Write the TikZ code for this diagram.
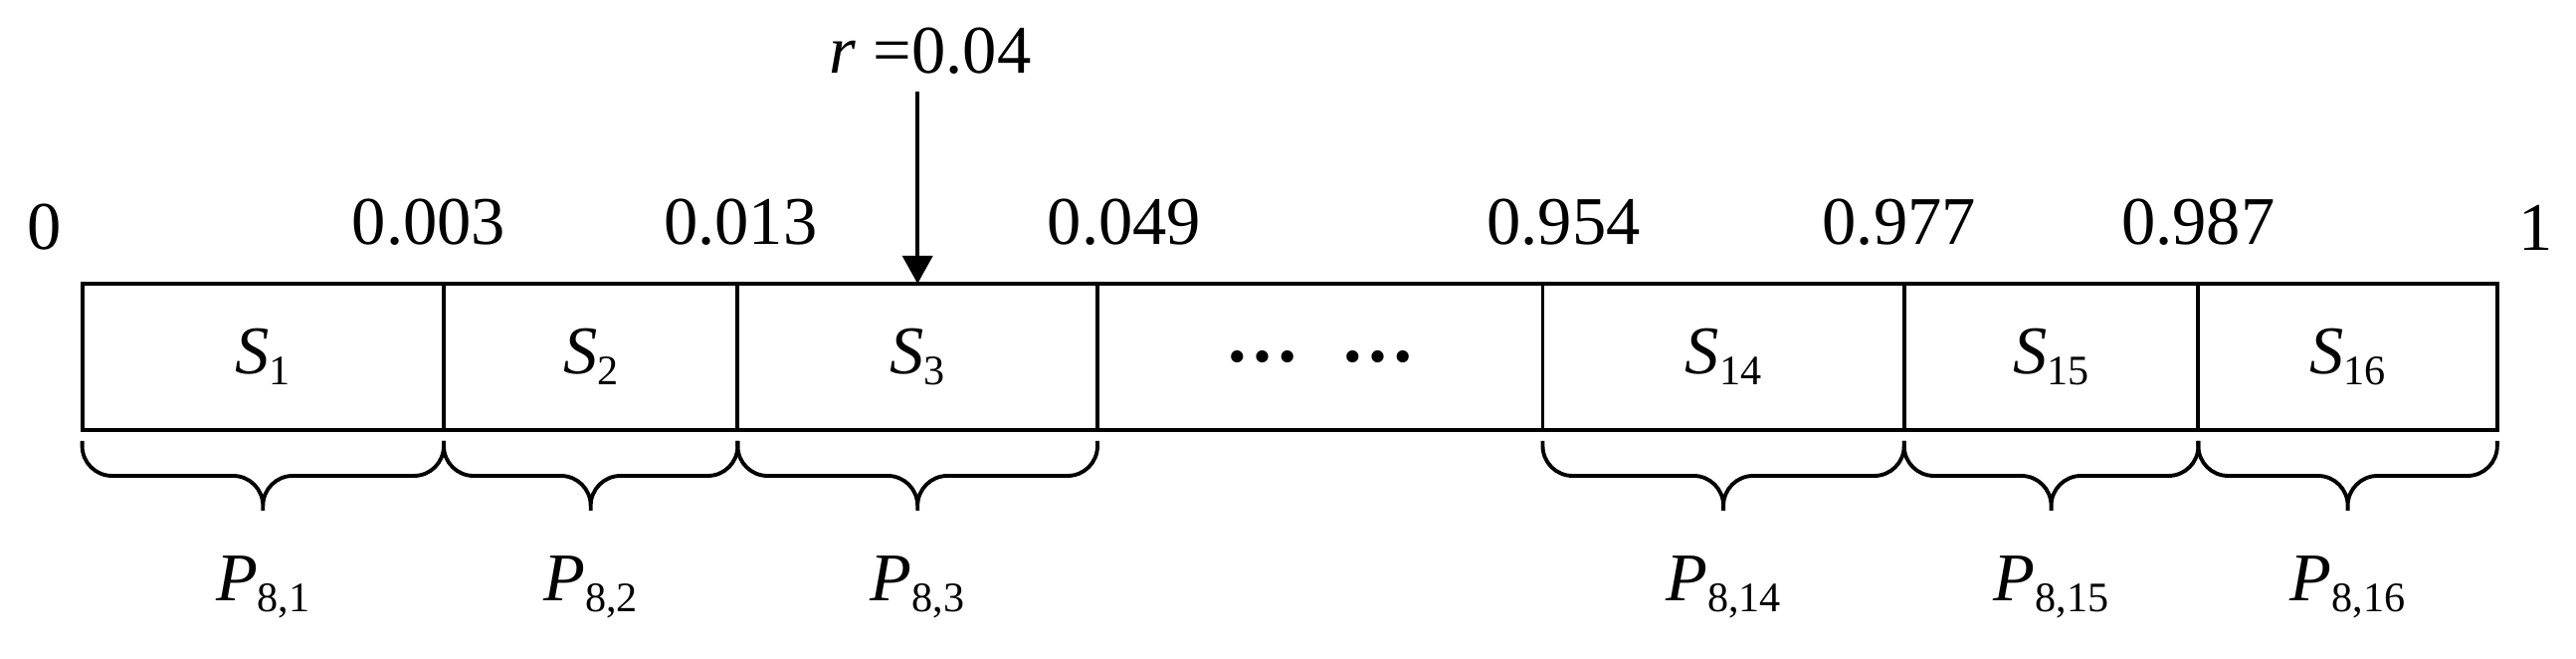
\documentclass[tikz,border=0pt]{standalone}
\usepackage{fontspec}
\setmainfont{Liberation Serif}
\usetikzlibrary{positioning}
\usetikzlibrary{arrows.meta}

\newcommand{\idx}[2]{\textit{#1}\raisebox{-0.11cm}{\fontsize{12}{14}\selectfont #2}}

\begin{document}
\begin{tikzpicture}[
            > = {Triangle[length=2.8mm, width=3mm]}, % arrow head style
            line width = 1.1pt,
            node distance = 0.37cm
        ]

        \tikzstyle{cell}=[
            draw,
            minimum height = 1.47cm,
            inner sep = 0pt,
            outer sep = 0pt,
            font = \fontsize{19.5}{23}\selectfont
        ]
        \tikzstyle{num}=[inner sep = 0pt, font = \fontsize{19.5}{23}\selectfont]
        \tikzstyle{brc}=[rounded corners = 0.3cm]

        \useasboundingbox (0,0) rectangle (25.89,6.62);

	% the cells
        \node[cell, minimum width = 3.634cm] (S1) at (2.643,3.035) {\idx{S}{1}};
        \node[cell, minimum width = 2.954cm] (S2) [right = 0pt of S1] {\idx{S}{2}};
        \node[cell, minimum width = 3.616cm] (S3) [right = 0pt of S2] {\idx{S}{3}};
        \node[cell, minimum width = 4.475cm, font = \fontsize{21.3}{24}\selectfont\bfseries] (Sdots) [right = 0pt of S3] {…\hspace{0.41cm}…\hspace{0.235cm}};
        \node[cell, minimum width = 3.632cm] (S14) [right = 0pt of Sdots] {\idx{S}{14}};
        \node[cell, minimum width = 2.957cm] (S15) [right = 0pt of S14] {\idx{S}{15}};
        \node[cell, minimum width = 3.004cm] (S16) [right = 0pt of S15] {\idx{S}{16}};

         % bounds
        \node[num, above = 0.32cm of S1.north west, xshift = -0.38cm] (t0) {0};
        \node[num, above = of S1.north east, xshift = -0.15cm] (t003) {0.003};
        \node[num, above = of S2.north east, xshift = 0.03cm] (t013) {0.013};
        \node[num, above = of S3.north east, xshift = 0.27cm] (t049) {0.049};
        \node[num, above = of Sdots.north east, xshift = 0.21cm] (t954) {0.954};
        \node[num, above = of S14.north east, xshift = -0.05cm] (t977) {0.977};
        \node[num, above = of S15.north east] (t987) {0.987};
        \node[num, above = 0.32cm of S16.north east, xshift = 0.39cm] (t1) {1};

         % random number
        \node[num, above = 2.09cm of S3.north, xshift = 0.13cm] (R) {\textit{r} =0.04};
        \draw[->, shorten < = 0.16cm] (R.south -| S3.north) -- (S3.north);

         % braces
        \foreach \c/\i in {S1/1, S2/2, S3/3, S14/14, S15/15, S16/16} {
            \draw[brc] ([yshift=-0.11cm]\c.south west) |- ([yshift=-0.46cm]\c.south) -- ([yshift=-0.81cm]\c.south)
                       ([yshift=-0.11cm]\c.south east) |- ([yshift=-0.46cm]\c.south) -- ([yshift=-0.81cm]\c.south);
            \node[num, below = 1.25cm of \c.south] (P\i) {\idx{P}{8,\i}};
        }

\end{tikzpicture}
\end{document}
